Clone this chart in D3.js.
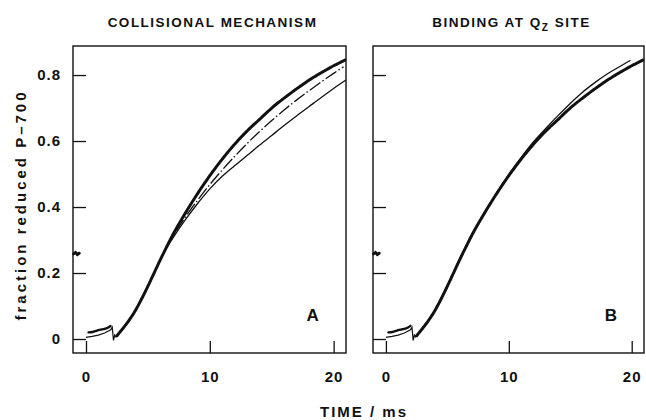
<!DOCTYPE html>
<html>
<head>
<meta charset="utf-8">
<script src="https://cdn.jsdelivr.net/npm/d3@7"></script>
<style>
  body { margin: 0; background: #fff; }
  text { font-family: "Liberation Sans", Arial, sans-serif; fill: #111; }
</style>
</head>
<body>
<script>

    // axis ticks
    const timeTicks = [0, 10, 20],
          fracTicks = [0, 0.2, 0.4, 0.6, 0.8];

    // measured trace: few points before the flash
    const preT = [-1.0, -0.85, -0.7, -0.55],
          preV = [0.258, 0.262, 0.256, 0.26];

    // measured trace just after the flash (0 - 2 ms)
    const earlyT = [0.2, 0.6, 1.0, 1.4, 1.8, 2.0],
          earlyV = [0.02, 0.022, 0.027, 0.03, 0.035, 0.04];

    // measured trace, main rise
    const obsT = [2.5, 3.0, 3.5, 4.0, 4.5, 5.0, 5.5, 6.0, 6.5, 7, 8, 9, 10, 11, 12, 13, 14, 15, 16, 17, 18, 19, 20, 20.9],
          obsV = [0.01, 0.033, 0.058, 0.087, 0.122, 0.16, 0.2, 0.24, 0.278, 0.315, 0.38, 0.44, 0.495, 0.545, 0.59, 0.63, 0.665, 0.70, 0.73, 0.758, 0.784, 0.807, 0.828, 0.845];

    // model curves share the same start with the flash artefact
    const fitStartT = [0, 0.5, 1.0, 1.5, 2.0, 2.12, 2.22, 2.32, 2.42, 2.7, 3.0, 3.5, 4.0, 4.5, 5.0, 5.5, 6.0, 6.5],
          fitStartV = [0.005, 0.008, 0.012, 0.018, 0.028, 0.036, -0.004, 0.012, 0.006, 0.018, 0.03, 0.056, 0.086, 0.122, 0.16, 0.2, 0.24, 0.276];

    // panel A, collisional mechanism: solid and dashed fits
    const collSolidT = [6.5, 7, 8, 9, 10, 11, 12, 13, 14, 15, 16, 17, 18, 19, 20, 21],
          collSolidV = [0.276, 0.305, 0.36, 0.41, 0.455, 0.493, 0.525, 0.556, 0.587, 0.617, 0.647, 0.676, 0.704, 0.732, 0.759, 0.785];
    const collDashT = [6.5, 7, 8, 9, 10, 11, 12, 13, 14, 15, 16, 17, 18, 19, 20, 20.8],
          collDashV = [0.277, 0.31, 0.368, 0.42, 0.468, 0.512, 0.553, 0.592, 0.628, 0.662, 0.694, 0.724, 0.752, 0.779, 0.805, 0.825];

    // panel B, binding at Qz site
    const qzT = [6.5, 7, 8, 9, 10, 11, 12, 13, 14, 15, 16, 17, 18, 19, 19.9],
          qzV = [0.278, 0.316, 0.382, 0.442, 0.499, 0.55, 0.597, 0.638, 0.677, 0.714, 0.748, 0.777, 0.803, 0.825, 0.845];

    const W = 646, H = 420;
    const plotTop = 46, plotBottom = 353;

    const svg = d3.select("body").append("svg")
        .attr("width", W)
        .attr("height", H);

    const y = d3.scaleLinear().domain([-0.0424, 0.888]).range([plotBottom, plotTop]);

    const pairs = (ts, vs) => ts.map((t, i) => [t, vs[i]]);

    function drawPanel(left, right, title, letter, curves, showYLabels) {
        const x = d3.scaleLinear().domain([-1.05, 21.0]).range([left, right]);
        const g = svg.append("g");

        // frame
        g.append("rect")
            .attr("x", left).attr("y", plotTop)
            .attr("width", right - left).attr("height", plotBottom - plotTop)
            .attr("fill", "none").attr("stroke", "#111").attr("stroke-width", 1.4);

        const yAxis = d3.axisLeft(y).tickValues(fracTicks).tickSize(-13).tickPadding(12)
            .tickFormat(d => d === 0 ? "0" : d.toFixed(1));
        const ya = g.append("g").attr("transform", `translate(${left},0)`).call(yAxis);
        ya.select(".domain").remove();
        ya.selectAll("line").attr("stroke", "#111").attr("stroke-width", 1.3);
        ya.selectAll("text").style("font-size", "15px").style("font-weight", "bold")
            .style("letter-spacing", "1px").attr("fill", "#111");
        if (!showYLabels) ya.selectAll("text").remove();

        const xAxis = d3.axisBottom(x).tickValues(timeTicks).tickSize(-12).tickPadding(18)
            .tickFormat(d3.format("d"));
        const xa = g.append("g").attr("transform", `translate(0,${plotBottom})`).call(xAxis);
        xa.select(".domain").remove();
        xa.selectAll("line").attr("stroke", "#111").attr("stroke-width", 1.3);
        xa.selectAll("text").style("font-size", "15px").style("font-weight", "bold")
            .style("letter-spacing", "1px").attr("fill", "#111");

        const line = d3.line().x(d => x(d[0])).y(d => y(d[1]));
        const smooth = d3.line().x(d => x(d[0])).y(d => y(d[1])).curve(d3.curveMonotoneX);

        const marks = g.append("g");

        // fits
        curves.forEach(c => {
            marks.append("path")
                .attr("d", line(c.start))
                .attr("fill", "none").attr("stroke", "#111").attr("stroke-width", 1.2);
            marks.append("path")
                .attr("d", smooth(c.pts))
                .attr("fill", "none").attr("stroke", "#111").attr("stroke-width", 1.3)
                .attr("stroke-dasharray", c.dash || null);
        });

        // measured trace (noisy, thick)
        const dataStyle = p => p.attr("fill", "none").attr("stroke", "#111")
            .attr("stroke-width", 3).attr("stroke-dasharray", "4,0.8").attr("stroke-linecap", "round");
        marks.append("path").attr("d", line(pairs(preT, preV))).call(dataStyle);
        marks.append("path").attr("d", smooth(pairs(earlyT, earlyV))).call(dataStyle)
            .attr("stroke-width", 2.4);
        marks.append("path").attr("d", smooth(pairs(obsT, obsV))).call(dataStyle);

        // panel letter
        g.append("text")
            .attr("x", x(18.3)).attr("y", 321)
            .attr("text-anchor", "middle")
            .style("font-size", "17px").style("font-weight", "bold")
            .text(letter);

        // title
        const tt = g.append("text")
            .attr("x", (left + right) / 2 + 3).attr("y", 27)
            .attr("text-anchor", "middle")
            .style("font-size", "13.5px").style("font-weight", "bold")
            .style("letter-spacing", "1.5px");
        title(tt);
    }

    drawPanel(73, 346,
        t => t.text("COLLISIONAL MECHANISM"),
        "A",
        [
            { start: pairs(fitStartT, fitStartV), pts: pairs(collSolidT, collSolidV) },
            { start: [], pts: pairs(collDashT, collDashV), dash: "13,2.5,1.5,2.5" }
        ],
        true);

    drawPanel(373, 644,
        t => {
            t.append("tspan").text("BINDING AT Q");
            t.append("tspan").attr("dy", 4).style("font-size", "10px").text("Z");
            t.append("tspan").attr("dy", -4).text(" SITE");
        },
        "B",
        [
            { start: pairs(fitStartT, fitStartV), pts: pairs(qzT, qzV) }
        ],
        false);

    // shared axis titles
    svg.append("text")
        .attr("x", 364).attr("y", 417)
        .attr("text-anchor", "middle")
        .style("font-size", "15px").style("font-weight", "bold")
        .style("letter-spacing", "2px")
        .text("TIME / ms");

    svg.append("text")
        .attr("transform", "translate(26,205) rotate(-90)")
        .attr("text-anchor", "middle")
        .style("font-size", "15px").style("font-weight", "bold")
        .style("letter-spacing", "3px")
        .text("fraction reduced P\u2013700");

</script>
</body>
</html>
